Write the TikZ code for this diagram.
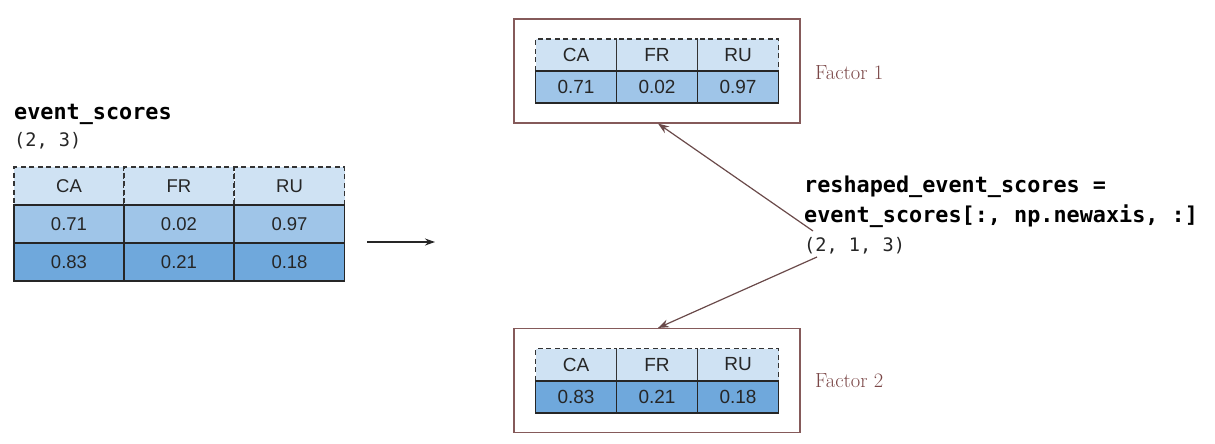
\documentclass[tikz,border=0pt]{standalone}
\usepackage{fontspec}
\usetikzlibrary{arrows.meta}
\newfontfamily\cellfont{Liberation Sans}
\newfontfamily\codefont{DejaVu Sans Mono}
\definecolor{hdr}{HTML}{CFE2F3}
\definecolor{rowa}{HTML}{9FC5E8}
\definecolor{rowb}{HTML}{6FA8DC}
\definecolor{boxc}{HTML}{855A5A}
\definecolor{arrc}{HTML}{6A4A4A}
\definecolor{factc}{HTML}{7A4646}
\begin{document}
\begin{tikzpicture}[x=1pt,y=-1pt,
  cellL/.style={rectangle,inner sep=0pt,minimum width=110pt,minimum height=38pt,
    font=\cellfont\fontsize{18.5}{20}\selectfont,text=black!85},
  cellS/.style={rectangle,inner sep=0pt,minimum width=81pt,minimum height=32pt,
    font=\cellfont\fontsize{19}{20}\selectfont,text=black!85},
  hcell/.style={fill=hdr,draw=black!80,dash pattern=on 5pt off 3.5pt,line width=1.3pt},
  rcellA/.style={fill=rowa,draw=black!85,line width=1.3pt},
  rcellB/.style={fill=rowb,draw=black!85,line width=1.3pt},
  factbox/.style={rectangle,draw=boxc,line width=1.1pt,minimum width=286pt,minimum height=104pt,inner sep=0pt},
  facttext/.style={anchor=west,inner sep=0pt,text=factc,font=\fontsize{20.5}{22}\selectfont},
  codeb/.style={anchor=base west,inner sep=0pt,font=\codefont\bfseries\fontsize{21.8}{24}\selectfont},
  coden/.style={anchor=base west,inner sep=0pt,font=\codefont\fontsize{18.6}{22}\selectfont,text=black!85},
  conn/.style={-{Stealth[length=11pt,width=8pt]},draw=arrc,line width=1.2pt},
]
\useasboundingbox (0,0) rectangle (1215,444);
% left labels
\node[codeb] (lname) at (14,119) {event\_scores};
\node[coden] (lshape) at (14,146) {(2, 3)};
% left table
\node[cellL,hcell] (lh1) at (69,186) {CA};
\node[cellL,hcell] (lh2) at (179,186) {FR};
\node[cellL,hcell] (lh3) at (289.5,186) {RU};
\node[cellL,rcellA] (la1) at (69,224) {0.71};
\node[cellL,rcellA] (la2) at (179,224) {0.02};
\node[cellL,rcellA] (la3) at (289.5,224) {0.97};
\node[cellL,rcellB] (lb1) at (69,262) {0.83};
\node[cellL,rcellB] (lb2) at (179,262) {0.21};
\node[cellL,rcellB] (lb3) at (289.5,262) {0.18};
% left arrow
\coordinate (ls) at (367,242);
\coordinate (le) at (435,242);
\draw[-{Stealth[length=10pt,width=7pt]},line width=1.2pt,black!85] (ls) -- (le);
% top factor box
\node[factbox] (box1) at (657,71) {};
\node[cellS,hcell] (th1) at (576,55) {CA};
\node[cellS,hcell] (th2) at (657,55) {FR};
\node[cellS,hcell] (th3) at (738,55) {RU};
\node[cellS,rcellA] (ta1) at (576,87) {0.71};
\node[cellS,rcellA] (ta2) at (657,87) {0.02};
\node[cellS,rcellA] (ta3) at (738,87) {0.97};
\node[facttext] (f1) at (815,73) {Factor 1};
% bottom factor box
\node[factbox] (box2) at (657,380.5) {};
\node[cellS,hcell] (bh1) at (576,364.5) {CA};
\node[cellS,hcell] (bh2) at (657,364.5) {FR};
\node[cellS,hcell] (bh3) at (738,364.5) {RU};
\node[cellS,rcellB] (bb1) at (576,397) {0.83};
\node[cellS,rcellB] (bb2) at (657,397) {0.21};
\node[cellS,rcellB] (bb3) at (738,397) {0.18};
\node[facttext] (f2) at (815,381) {Factor 2};
% right labels
\node[codeb] (r1) at (804,192) {reshaped\_event\_scores =};
\node[codeb] (r2) at (804,222) {event\_scores[:, np.newaxis, :]};
\node[coden] (r3) at (804,251) {(2, 1, 3)};
% connectors
\coordinate (us) at (813,231);
\coordinate (bs) at (817,257);
\draw[conn] (us) -- (box1.south -| 658,0);
\draw[conn] (bs) -- (box2.north -| 658,0);
\end{tikzpicture}
\end{document}
